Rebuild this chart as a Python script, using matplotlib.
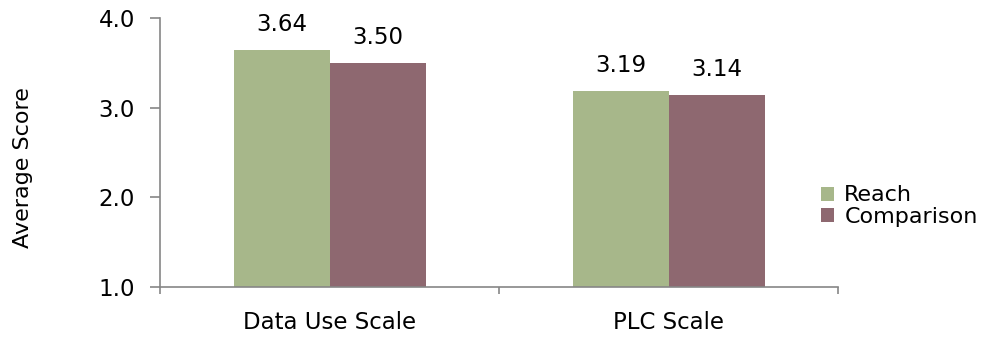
import matplotlib
matplotlib.use("Agg")
import matplotlib.pyplot as plt
import numpy as np

categories = ["Data Use Scale", "PLC Scale"]
series_names = ["Reach", "Comparison"]
reach = [3.64, 3.19]
comparison = [3.50, 3.14]
y_ticks = [1.0, 2.0, 3.0, 4.0]

colors = ["#A7B78A", "#8E6870"]
axis_gray = "#868686"

plt.rcParams['font.family'] = ['DejaVu Sans']
FS = 16.5

fig = plt.figure(figsize=(9.84, 3.37), dpi=100)
ax = fig.add_axes([160/984, 1-287/337, (838-160)/984, (287-18)/337])

x = np.arange(len(categories))
w = 96/339
bottom = 1.0
b1 = ax.bar(x - w/2, np.array(reach) - bottom, w, bottom=bottom, color=colors[0], label=series_names[0])
b2 = ax.bar(x + w/2, np.array(comparison) - bottom, w, bottom=bottom, color=colors[1], label=series_names[1])

for bars, vals in ((b1, reach), (b2, comparison)):
    for rect, v in zip(bars, vals):
        ax.annotate(f"{v:.2f}", (rect.get_x() + rect.get_width()/2, v),
                    xytext=(0, 10), textcoords="offset points",
                    ha="center", va="bottom", fontsize=FS, color="black")

ax.set_xlim(-0.5, len(categories) - 0.5)
ax.set_ylim(1.0, 4.0)
ax.set_yticks(y_ticks)
ax.set_yticklabels([f"{t:.1f}" for t in y_ticks], fontsize=FS)
ax.set_xticks(x)
ax.set_xticklabels(categories, fontsize=FS)
ax.set_xticks(np.arange(-0.5, len(categories), 1.0), minor=True)
ax.tick_params(axis="x", which="major", length=0, pad=17)
ax.tick_params(axis="x", which="minor", length=5, width=1.2, color=axis_gray, direction="out")
ax.tick_params(axis="y", length=7, width=1.2, color=axis_gray, direction="out", pad=11)

for s in ("top", "right"):
    ax.spines[s].set_visible(False)
for s in ("left", "bottom"):
    ax.spines[s].set_color(axis_gray)
    ax.spines[s].set_linewidth(1.2)

fig.text(23/984, 1-168/337, "Average Score", rotation=90, ha="center", va="center", fontsize=16)

fig.legend(handles=[b1, b2], labels=series_names, loc="center left",
           bbox_to_anchor=(801/984, 1-206/337), frameon=False, fontsize=16,
           handlelength=0.6, handleheight=0.6, handletextpad=0.45, labelspacing=0.05)

fig.savefig("out.png", dpi=100)
